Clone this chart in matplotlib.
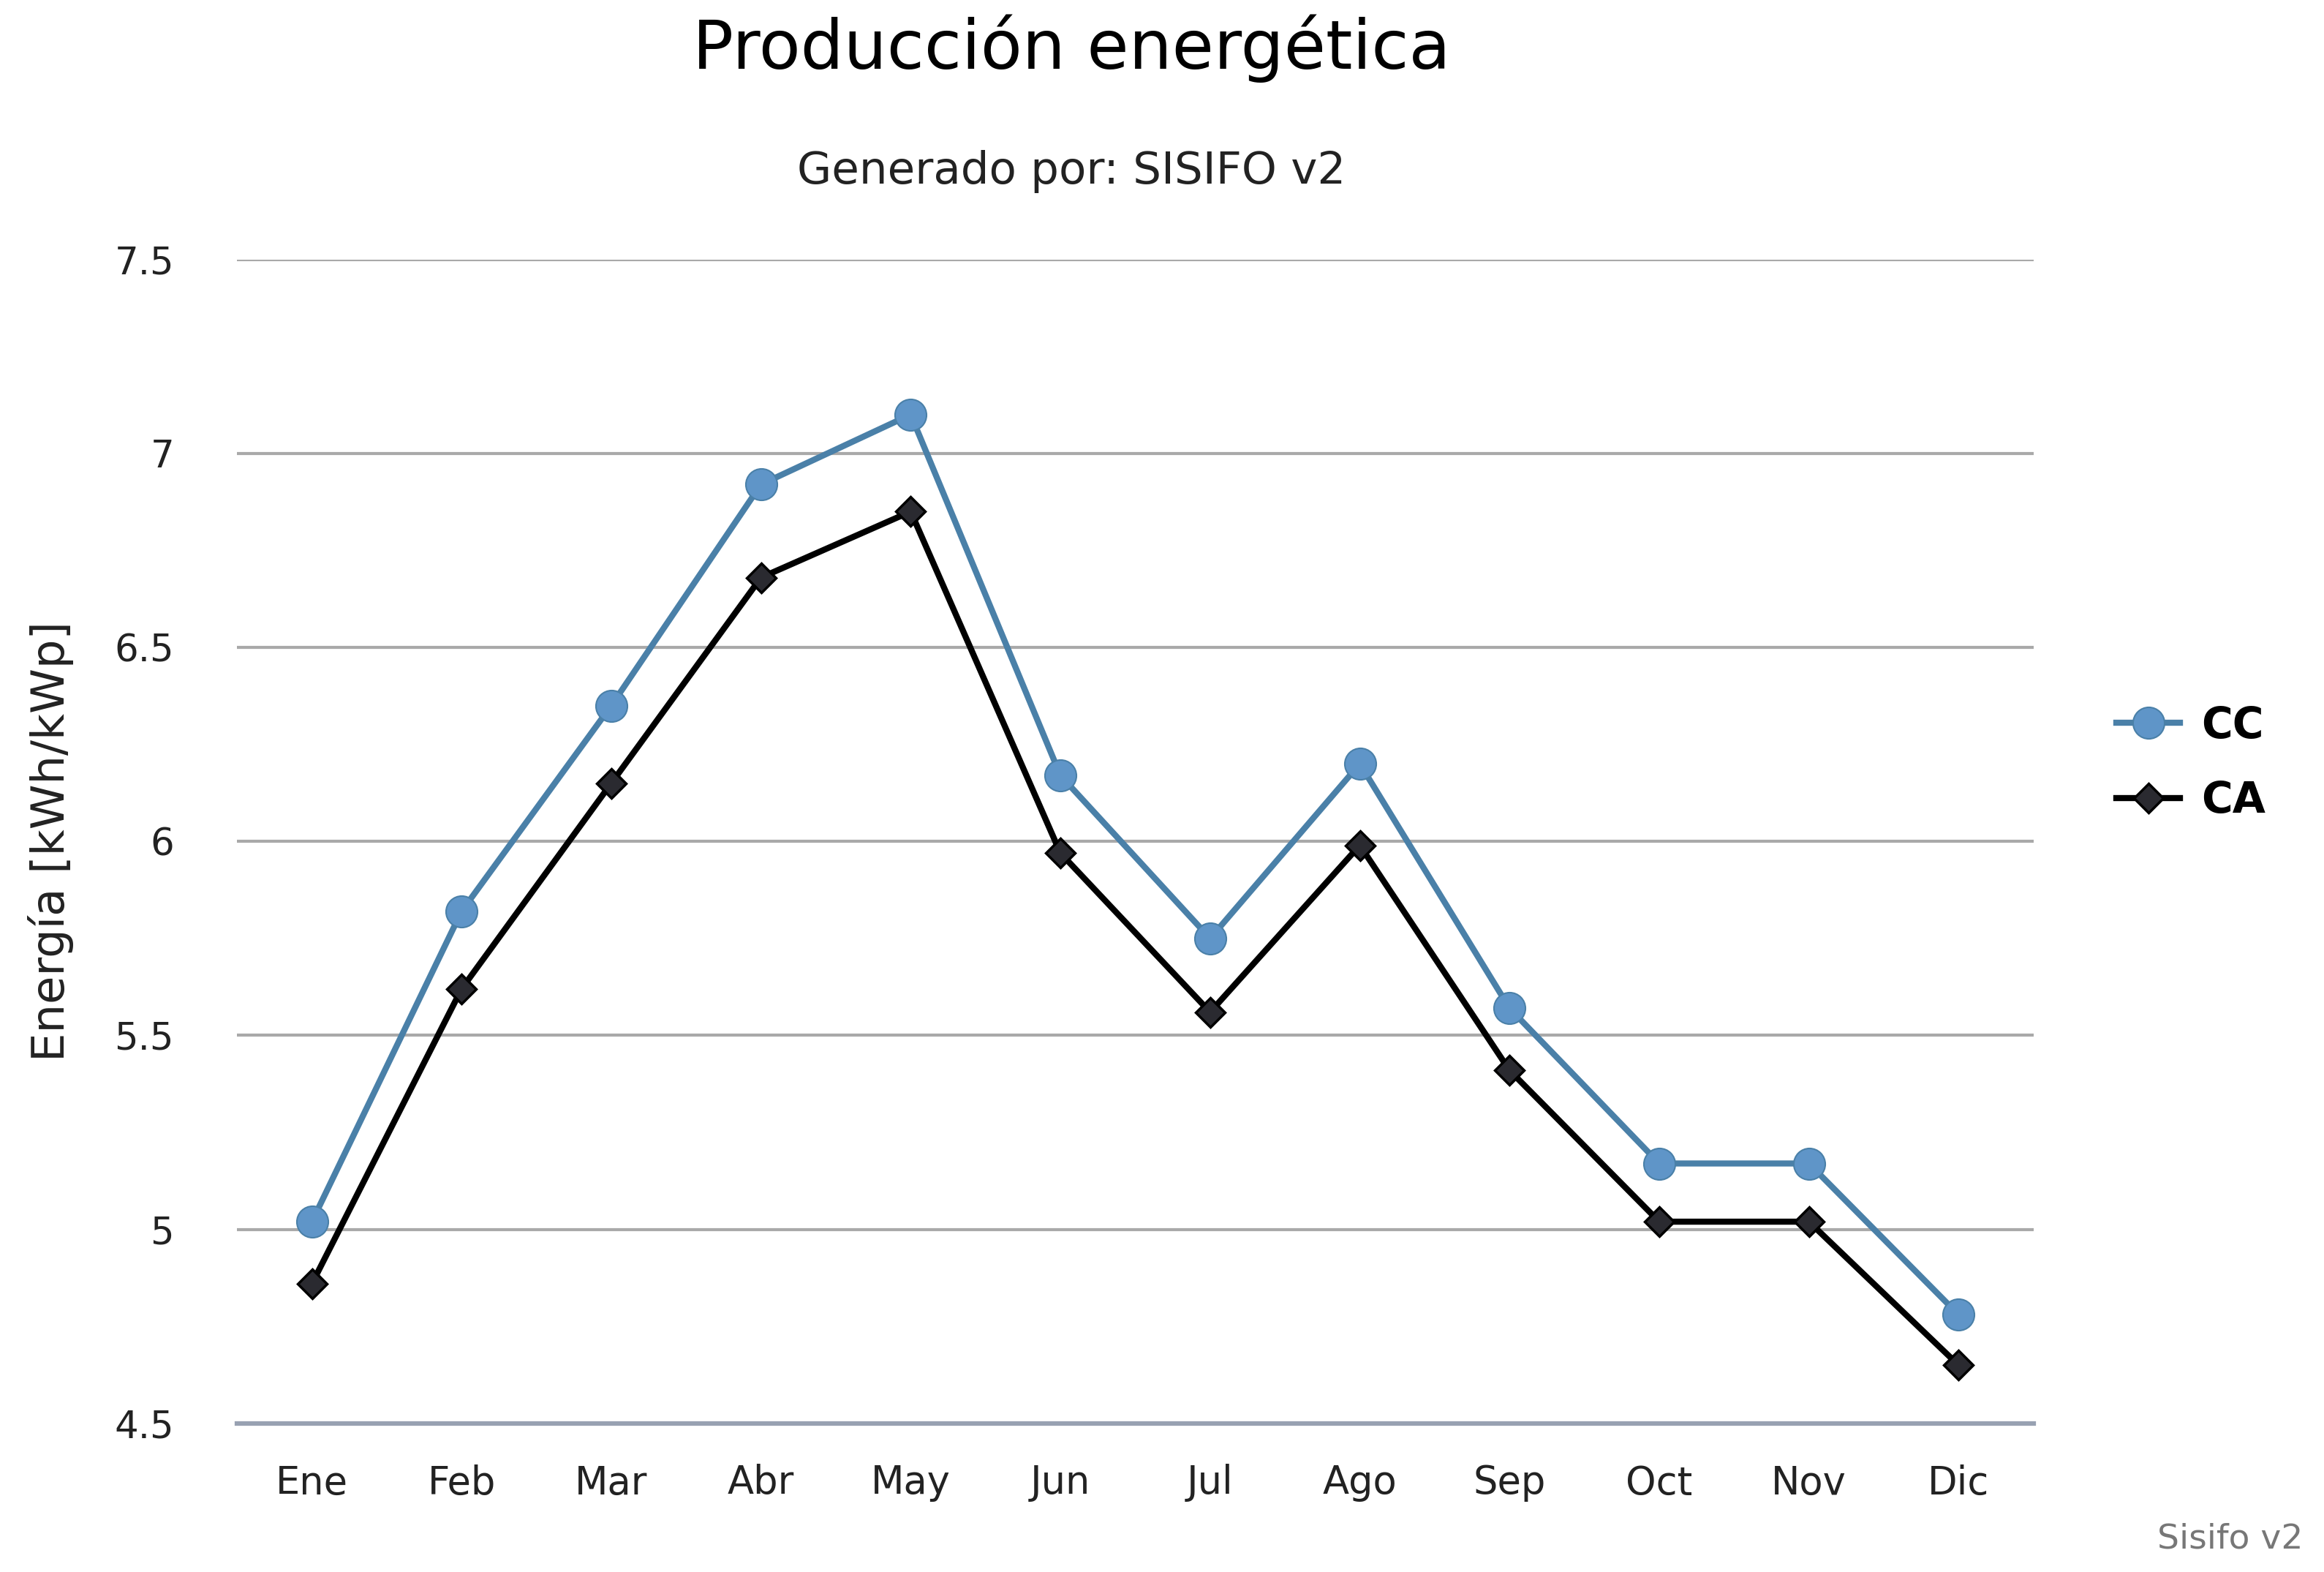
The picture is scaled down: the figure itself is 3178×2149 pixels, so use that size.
import matplotlib.pyplot as plt
from matplotlib.ticker import FuncFormatter

# Monthly energy yield (kWh/kWp)
months = ['Ene', 'Feb', 'Mar', 'Abr', 'May', 'Jun', 'Jul', 'Ago', 'Sep', 'Oct', 'Nov', 'Dic']
cc = [5.02, 5.82, 6.35, 6.92, 7.10, 6.17, 5.75, 6.20, 5.57, 5.17, 5.17, 4.78]
ca = [4.86, 5.62, 6.15, 6.68, 6.85, 5.97, 5.56, 5.99, 5.41, 5.02, 5.02, 4.65]
yticks = [4.5, 5, 5.5, 6, 6.5, 7, 7.5]

plt.rcParams['font.family'] = ['DejaVu Sans']

fig = plt.figure(figsize=(31.78, 21.49), dpi=100)
ax = fig.add_axes([0.102, 0.0945, 0.773, 0.7405])

x = list(range(len(months)))

ax.plot(x, cc, color='#4a80a8', linewidth=6, marker='o', markersize=31,
        markerfacecolor='#5f95c8', markeredgecolor='#4a80a8', markeredgewidth=1.5,
        label='CC', zorder=4)
ax.plot(x, ca, color='black', linewidth=6, marker='D', markersize=20,
        markerfacecolor='#2a2a30', markeredgecolor='black', markeredgewidth=2.5,
        label='CA', zorder=5)

ax.set_xlim(-0.5, len(months) - 0.5)
ax.set_ylim(4.5, 7.5)
ax.set_yticks(yticks)
ax.yaxis.set_major_formatter(FuncFormatter(lambda v, p: '{:g}'.format(v)))
ax.set_xticks(x)
ax.set_xticklabels(months)

for y in yticks:
    if y == 4.5:
        ax.axhline(y, color='#98a1b2', linewidth=4.5, zorder=1, clip_on=False)
    else:
        ax.axhline(y, color='#a9a9a9', linewidth=3, zorder=1)

for s in ax.spines.values():
    s.set_visible(False)
ax.tick_params(axis='both', length=0, labelsize=37, colors='#222222')
ax.tick_params(axis='x', labelsize=38, pad=40)
ax.tick_params(axis='y', pad=62)

ax.set_ylabel('Energía [kWh/kWp]', fontsize=45, color='#222222', labelpad=40)

fig.text(0.461, 0.969, 'Producción energética', ha='center', va='center',
         fontsize=67, color='black')
fig.text(0.461, 0.891, 'Generado por: SISIFO v2', ha='center', va='center',
         fontsize=44, color='#222222')
fig.text(0.991, 0.021, 'Sisifo v2', ha='right', va='center',
         fontsize=34, color='#777777')

leg = ax.legend(loc='center left', bbox_to_anchor=(1.046, 0.567), frameon=False,
                prop={'size': 42, 'weight': 'bold'}, handlelength=1.5,
                handletextpad=0.5, labelspacing=0.78, borderaxespad=0,
                borderpad=0)

fig.savefig('out.png', dpi=100, facecolor='white')
